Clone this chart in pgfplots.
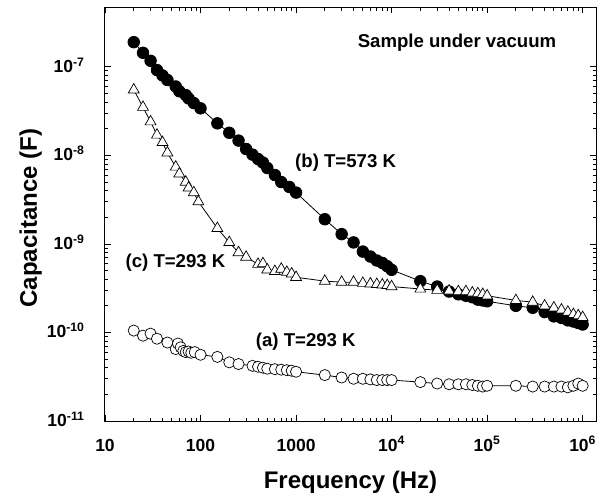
\documentclass[border=0pt]{standalone}
\usepackage{fontspec}
\setmainfont{Liberation Sans}
\usepackage{pgfplots}
\pgfplotsset{compat=1.18}

\pgfplotstableread{
f C
20 1.05e-10
25 0.92e-10
30 0.97e-10
35 0.85e-10
45 0.77e-10
55 0.65e-10
58 0.75e-10
62 0.68e-10
66 0.62e-10
70 0.60e-10
75 0.61e-10
80 0.59e-10
87 0.60e-10
100 0.56e-10
150 0.53e-10
200 0.46e-10
250 0.44e-10
350 0.42e-10
400 0.41e-10
450 0.40e-10
500 0.39e-10
600 0.385e-10
700 0.38e-10
800 0.375e-10
900 0.37e-10
1000 0.36e-10
2000 0.33e-10
3000 0.31e-10
4000 0.30e-10
5000 0.30e-10
6000 0.295e-10
7000 0.29e-10
8000 0.29e-10
9000 0.29e-10
10000 0.29e-10
20000 0.275e-10
30000 0.265e-10
40000 0.26e-10
50000 0.26e-10
60000 0.26e-10
70000 0.255e-10
80000 0.25e-10
90000 0.245e-10
100000 0.25e-10
200000 0.25e-10
300000 0.245e-10
400000 0.245e-10
500000 0.245e-10
600000 0.245e-10
700000 0.24e-10
800000 0.25e-10
900000 0.265e-10
1000000 0.25e-10
}\dataA

\pgfplotstableread{
f C
20 1.9e-7
25 1.44e-7
30 1.17e-7
35 0.92e-7
40 0.80e-7
45 0.71e-7
55 0.60e-7
60 0.53e-7
70 0.48e-7
75 0.44e-7
85 0.39e-7
100 0.34e-7
150 2.3e-8
200 1.8e-8
250 1.47e-8
300 1.18e-8
350 1.02e-8
400 9.1e-9
450 8.3e-9
500 7.2e-9
600 6.0e-9
700 5.0e-9
850 4.4e-9
1000 3.8e-9
2000 1.9e-9
3000 1.29e-9
4000 1.04e-9
5000 0.82e-9
6000 0.72e-9
7000 0.65e-9
8000 0.61e-9
9000 0.56e-9
10000 0.51e-9
20000 0.38e-9
30000 0.33e-9
40000 0.29e-9
50000 0.27e-9
60000 0.26e-9
70000 0.25e-9
80000 0.235e-9
90000 0.23e-9
100000 0.225e-9
200000 0.20e-9
300000 0.19e-9
400000 0.17e-9
500000 0.152e-9
600000 0.146e-9
700000 0.137e-9
800000 0.133e-9
900000 0.128e-9
1000000 0.123e-9
}\dataB

\pgfplotstableread{
f C
20 5.5e-8
25 3.5e-8
30 2.4e-8
35 1.7e-8
40 1.4e-8
45 1.07e-8
55 7.4e-9
60 6.2e-9
70 5.0e-9
75 4.3e-9
85 3.8e-9
95 3.0e-9
150 1.5e-9
200 1.04e-9
250 0.80e-9
300 0.71e-9
400 0.59e-9
450 0.60e-9
500 0.51e-9
600 0.49e-9
700 0.52e-9
800 0.48e-9
900 0.46e-9
1000 0.42e-9
2000 0.38e-9
3000 0.37e-9
4000 0.37e-9
5000 0.36e-9
6000 0.355e-9
7000 0.35e-9
8000 0.345e-9
9000 0.34e-9
10000 0.33e-9
20000 0.31e-9
30000 0.30e-9
40000 0.295e-9
50000 0.29e-9
60000 0.29e-9
70000 0.28e-9
80000 0.275e-9
90000 0.27e-9
100000 0.26e-9
200000 0.23e-9
300000 0.22e-9
400000 0.20e-9
500000 0.19e-9
600000 0.18e-9
700000 0.17e-9
800000 0.16e-9
900000 0.155e-9
1000000 0.148e-9
}\dataC

\begin{document}
\begin{tikzpicture}
\useasboundingbox (-105bp,-77bp) rectangle (503bp,421bp);
\begin{axis}[
  at={(0,0)}, anchor=south west,
  scale only axis, width=491bp, height=414bp,
  xmode=log, ymode=log,
  xmin=10, xmax=1.38e6, ymin=1e-11, ymax=4.74e-7,
  xtick={10,100,1000,1e4,1e5,1e6},
  xticklabels={10,100,1000,10\textsuperscript{4},10\textsuperscript{5},10\textsuperscript{6}},
  ytick={1e-11,1e-10,1e-9,1e-8,1e-7},
  yticklabels={10\textsuperscript{-11},10\textsuperscript{-10},10\textsuperscript{-9},10\textsuperscript{-8},10\textsuperscript{-7}},
  tick label style={font=\fontsize{17.5bp}{20bp}\selectfont\bfseries},
  xticklabel style={anchor=base, yshift=-30bp},
  yticklabel style={anchor=base east, yshift=-5.5bp, xshift=-17bp},
  major tick length=6bp, minor tick length=3.5bp,
  every tick/.style={black, line width=0.8bp},
  axis line style={line width=1bp},
  xlabel={Frequency (Hz)},
  ylabel={Capacitance (F)},
  label style={font=\fontsize{24bp}{28bp}\selectfont\bfseries},
  xlabel style={at={(axis description cs:0.5,-0.164)}, anchor=base},
  ylabel style={at={(axis description cs:-0.1385,0.49)}, anchor=base},
  clip=false,
]
\addplot[black, line width=0.8bp, mark=*, mark size=5.6bp, mark options={fill=white, draw=black, line width=0.7bp}] table[x=f, y=C] {\dataA};
\addplot[black, line width=0.8bp, mark=*, mark size=5.8bp, mark options={fill=black, draw=black}] table[x=f, y=C] {\dataB};
\addplot[black, line width=0.8bp, mark=triangle*, mark size=6.3bp, mark options={fill=white, draw=black, line width=0.7bp}] table[x=f, y=C] {\dataC};

\node[font=\fontsize{18.6bp}{22bp}\selectfont\bfseries] at (rel axis cs:0.717,0.915) {Sample under vacuum};
\node[font=\fontsize{18.6bp}{22bp}\selectfont\bfseries] at (rel axis cs:0.490,0.623) {(b) T=573 K};
\node[font=\fontsize{18.6bp}{22bp}\selectfont\bfseries] at (rel axis cs:0.1436,0.3816) {(c) T=293 K};
\node[font=\fontsize{18.6bp}{22bp}\selectfont\bfseries] at (rel axis cs:0.409,0.191) {(a) T=293 K};
\end{axis}
\end{tikzpicture}
\end{document}
